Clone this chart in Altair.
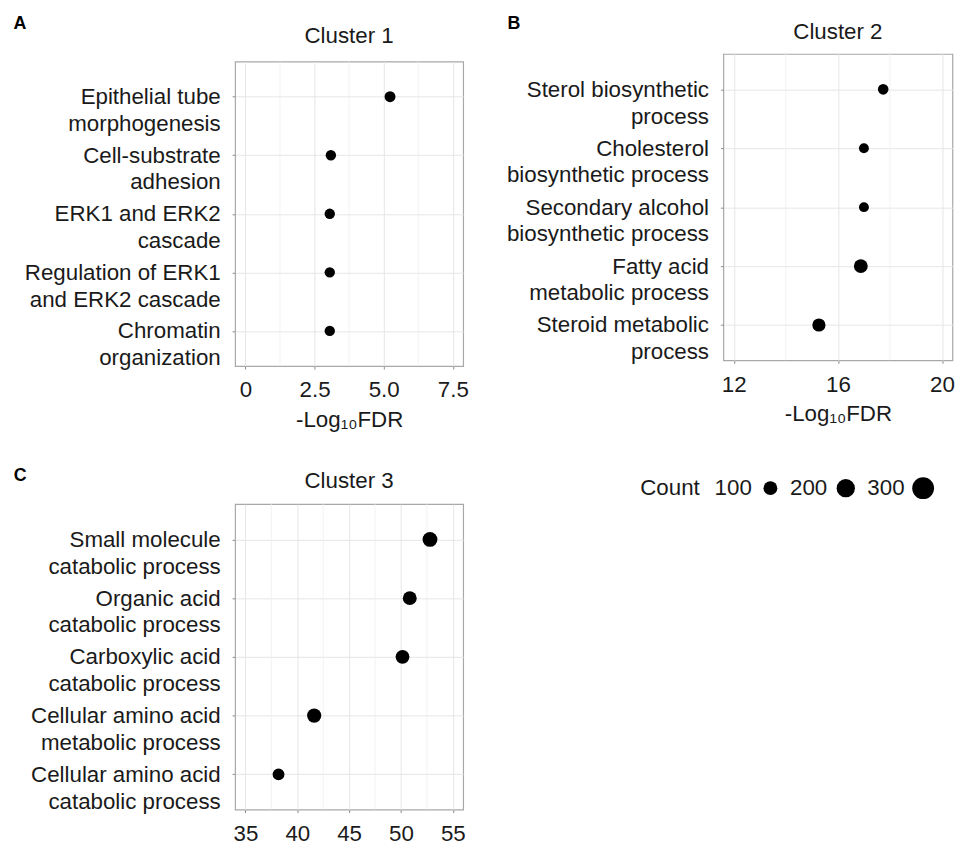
import altair as alt
import pandas as pd

FONT = "Liberation Sans"
FS = 22.5

# ---------------- data ----------------
a_terms = ["Epithelial tube\nmorphogenesis", "Cell-substrate\nadhesion",
           "ERK1 and ERK2\ncascade", "Regulation of ERK1\nand ERK2 cascade",
           "Chromatin\norganization"]
a_fdr = [5.23, 3.09, 3.05, 3.05, 3.05]
a_count = [48, 40, 40, 40, 40]
a_ticks = [0, 2.5, 5.0, 7.5]
a_minor = [1.25, 3.75, 6.25]

b_terms = ["Sterol biosynthetic\nprocess", "Cholesterol\nbiosynthetic process",
           "Secondary alcohol\nbiosynthetic process", "Fatty acid\nmetabolic process",
           "Steroid metabolic\nprocess"]
b_fdr = [17.74, 17.0, 17.0, 16.88, 15.27]
b_count = [44, 33, 33, 100, 87]
b_ticks = [12, 16, 20]
b_minor = [14, 18]

c_terms = ["Small molecule\ncatabolic process", "Organic acid\ncatabolic process",
           "Carboxylic acid\ncatabolic process", "Cellular amino acid\nmetabolic process",
           "Cellular amino acid\ncatabolic process"]
c_fdr = [52.8, 50.85, 50.15, 41.63, 38.19]
c_count = [120, 100, 100, 106, 64]
c_ticks = [35, 40, 45, 50, 55]
c_minor = [37.5, 42.5, 47.5, 52.5]

legend_counts = [100, 200, 300]

# ---------------- style ----------------
BORDER = "#a8a8a8"
GRID = "#e6e6e6"
MINOR = "#eeeeee"
TICK = "#8c8c8c"
TEXT = "#1a1a1a"

size_scale = alt.Scale(domain=[0, 300], range=[52, 484])


def panel(terms, fdr, count, domain, ticks, minor, title, title_offset,
          xtitle, width, height, label_expr=None, legend=None):
    df = pd.DataFrame({"term": terms, "fdr": fdr, "count": count})
    xs = alt.Scale(domain=domain, nice=False, zero=False)
    axis_kw = dict(values=ticks, grid=True, gridColor=GRID, gridWidth=1,
                   domain=False, tickSize=3, tickColor=TICK, labelFontSize=FS,
                   labelColor=TEXT, labelPadding=10, labelFont=FONT,
                   titleFontSize=FS, titleFontWeight="normal", titleColor=TEXT,
                   titlePadding=7, titleFont=FONT, labelFlush=False,
                   title=xtitle if xtitle else "")
    if label_expr:
        axis_kw["labelExpr"] = label_expr
    size_kw = dict(scale=size_scale)
    size_kw["legend"] = legend if legend is not None else None
    pts = alt.Chart(df).mark_circle(color="black", opacity=1).encode(
        x=alt.X("fdr:Q", scale=xs, axis=alt.Axis(**axis_kw)),
        y=alt.Y("term:N", sort=terms,
                scale=alt.Scale(type="point", padding=0.6),
                axis=alt.Axis(title=None, labelExpr="split(datum.label, '\\n')",
                              labelLineHeight=27, labelFontSize=FS,
                              labelAlign="right", labelBaseline="middle",
                              labelPadding=12, tickSize=3, tickColor=TICK,
                              domain=False, grid=True, gridColor=GRID,
                              labelColor=TEXT, labelFont=FONT, labelLimit=400)),
        size=alt.Size("count:Q", **size_kw),
    )
    mdf = pd.DataFrame({"fdr": minor})
    rules = alt.Chart(mdf).mark_rule(color=MINOR, strokeWidth=0.8).encode(
        x=alt.X("fdr:Q", scale=xs, axis=alt.Axis(**axis_kw)))
    return alt.layer(rules, pts).properties(
        width=width, height=height,
        title=alt.Title(title, anchor="middle", frame="group", fontSize=FS,
                        fontWeight="normal", color=TEXT, font=FONT,
                        baseline="bottom", offset=title_offset),
    ).resolve_scale(size="independent")


def letter_unit(letter, lx):
    ldf = pd.DataFrame({"t": [letter]})
    return alt.Chart(ldf).mark_text(
        align="left", baseline="middle", fontSize=18, fontWeight="bold",
        font=FONT, color="black").encode(
        text="t:N", x=alt.value(lx), y=alt.value(0)).properties(
        width=1, height=1, view=alt.ViewBackground(strokeOpacity=0))


count_legend = alt.Legend(
    title="Count", orient="none", legendX=-83.8, legendY=426.5,
    direction="horizontal", titleOrient="left", values=legend_counts,
    labelAlign="right", labelOffset={"expr": "-30"}, columnPadding=11, padding=0,
    symbolType="circle", symbolFillColor="black", symbolStrokeWidth=0,
    symbolOpacity=1, labelFontSize=FS, titleFontSize=FS,
    titleFontWeight="normal", titleColor=TEXT, labelColor=TEXT,
    titlePadding=59, labelFont=FONT, titleFont=FONT, titleBaseline="middle",
    labelBaseline="middle")

A = panel(a_terms, a_fdr, a_count, [-0.375, 7.875], a_ticks, a_minor,
          "Cluster 1", -9.5, "-Log\u2081\u2080FDR", 230, 307,
          label_expr="datum.value == 0 ? '0' : format(datum.value, '.1f')")
B = panel(b_terms, b_fdr, b_count, [11.6, 20.4], b_ticks, b_minor,
          "Cluster 2", -12.4, "-Log\u2081\u2080FDR", 231, 309, legend=count_legend)
C = panel(c_terms, c_fdr, c_count, [34, 56], c_ticks, c_minor,
          "Cluster 3", -12.0, None, 230, 308)

colA = alt.vconcat(letter_unit("A", -223.4), A, spacing=37, bounds="flush").resolve_scale(size="independent")
colB = alt.vconcat(letter_unit("B", -217.8), B, spacing=29.3, bounds="flush").resolve_scale(size="independent")
colC = alt.vconcat(letter_unit("C", -223.2), C, spacing=27.8, bounds="flush").resolve_scale(size="independent")
top = alt.hconcat(colA, colB, spacing=492.4, bounds="flush").resolve_scale(size="independent")
chart = alt.vconcat(top, colC, spacing=455.5, bounds="flush").resolve_scale(
    size="independent").properties(
    padding={"left": 5, "top": 3.5, "right": 0, "bottom": 0}
).configure(font=FONT).configure_view(stroke=BORDER, strokeWidth=1.2)

chart.save("out.html", embed_options={"renderer": "svg", "actions": False})
